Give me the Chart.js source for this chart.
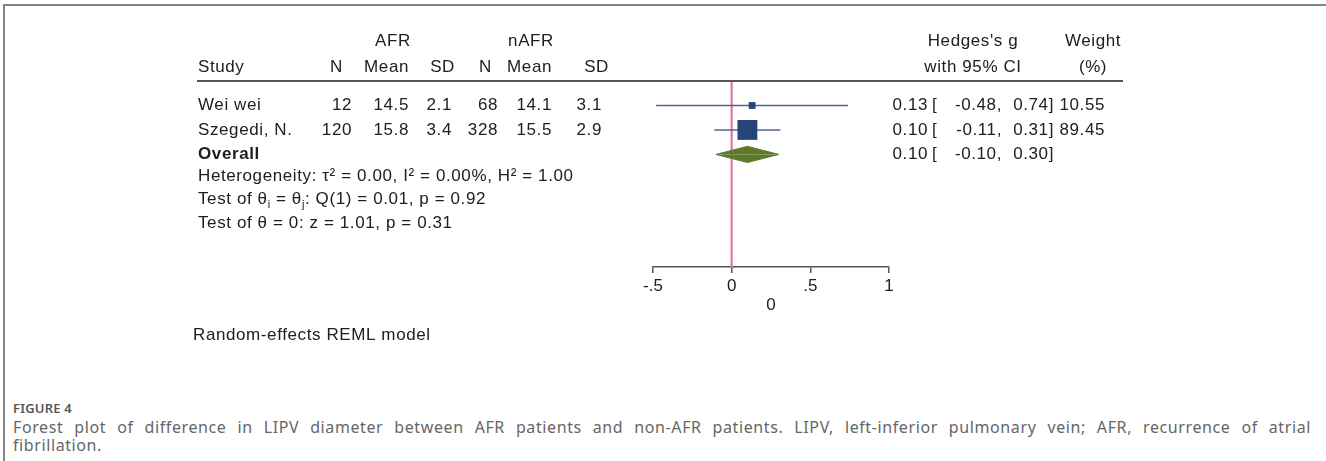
<!DOCTYPE html>
<html>
<head>
<meta charset="utf-8">
<script src="https://cdn.jsdelivr.net/npm/chart.js@4"></script>
<style>
  body { margin: 0; background: #fff; }
  .page { position: relative; width: 1326px; height: 461px; overflow: hidden; background: #fff; }
  .rule-top { position: absolute; left: 3px; top: 4px; width: 1323px; height: 2px; background: #858585; }
  .rule-left { position: absolute; left: 3px; top: 4px; width: 2px; height: 457px; background: #858585; }
  .plot { position: absolute; left: 0; top: 0; width: 1326px; height: 360px; }
  .fig-label { position: absolute; left: 13px; top: 399px; font: 600 13px "Noto Sans", sans-serif; color: #555; letter-spacing: 0.2px; }
  .caption { position: absolute; left: 13px; width: 1298px; font: 16px "Noto Sans", sans-serif; color: #666; letter-spacing: 0.6px; line-height: 19px; }
  .line1 { top: 418px; text-align: justify; text-align-last: justify; }
  .line2 { top: 436px; }
</style>
</head>
<body>
<div class="page">
  <div class="rule-top"></div>
  <div class="rule-left"></div>
  <div class="plot"><canvas id="forestCanvas"></canvas></div>
  <div class="fig-label">FIGURE 4</div>
  <div class="caption line1">Forest plot of difference in LIPV diameter between AFR patients and non-AFR patients. LIPV, left-inferior pulmonary vein; AFR, recurrence of atrial</div>
  <div class="caption line2">fibrillation.</div>
</div>
<script>
document.addEventListener("DOMContentLoaded", () => {
  // study data
  const studies = ["Wei wei", "Szegedi, N."];
  const afrN = [12, 120];
  const afrMean = [14.5, 15.8];
  const afrSD = [2.1, 3.4];
  const nafrN = [68, 328];
  const nafrMean = [14.1, 15.5];
  const nafrSD = [3.1, 2.9];
  const hedgesG = [0.13, 0.10];
  const ciLow = [-0.48, -0.11];
  const ciHigh = [0.74, 0.31];
  const weights = [10.55, 89.45];

  const overallG = 0.10;
  const overallLow = -0.10;
  const overallHigh = 0.30;

  const xTicks = [-0.5, 0, 0.5, 1];
  const xTickLabels = ["-.5", "0", ".5", "1"];

  // row positions (in y units, 0 = header rule)
  const studyRows = [1, 2];
  const overallRow = 3;
  const yMax = 7.6;

  const FONT = '"Liberation Sans", Arial, Helvetica, sans-serif';
  const textColor = "#202020";
  const FS = 17;

  const ciDatasets = studies.map((s, i) => ({
    label: s + " CI",
    data: [{ x: ciLow[i], y: studyRows[i] }, { x: ciHigh[i], y: studyRows[i] }],
    showLine: true,
    borderColor: "#4f6890",
    borderWidth: 1.6,
    pointRadius: 0,
    order: 3,
  }));

  const diamondHalf = 0.33;

  const forestText = {
    id: "forestText",
    afterDraw(chart) {
      const { ctx, chartArea, scales: { x, y } } = chart;
      const py = (v) => y.getPixelForValue(v);

      ctx.save();
      // header rule
      ctx.strokeStyle = "#555";
      ctx.lineWidth = 2;
      ctx.beginPath();
      ctx.moveTo(197, chartArea.top);
      ctx.lineTo(1123, chartArea.top);
      ctx.stroke();

      ctx.fillStyle = textColor;
      ctx.textBaseline = "middle";
      ctx.font = FS + "px " + FONT;
      ctx.letterSpacing = "0.6px";

      const put = (str, px, pyy, align) => {
        ctx.textAlign = align || "left";
        ctx.fillText(str, px, pyy);
      };

      // headers
      const h1 = py(-1.62);
      const h2 = py(-0.55);
      put("AFR", 393, h1, "center");
      put("nAFR", 531, h1, "center");
      put("Hedges's g", 973, h1, "center");
      put("Weight", 1093, h1, "center");
      put("Study", 198, h2);
      put("N", 343, h2, "right");
      put("Mean", 409, h2, "right");
      put("SD", 455, h2, "right");
      put("N", 492, h2, "right");
      put("Mean", 552, h2, "right");
      put("SD", 609, h2, "right");
      put("with 95% CI", 973, h2, "center");
      put("(%)", 1093, h2, "center");

      // study rows
      studies.forEach((s, i) => {
        const ry = py(studyRows[i]);
        put(s, 198, ry);
        put(String(afrN[i]), 352, ry, "right");
        put(afrMean[i].toFixed(1), 409, ry, "right");
        put(afrSD[i].toFixed(1), 452, ry, "right");
        put(String(nafrN[i]), 498, ry, "right");
        put(nafrMean[i].toFixed(1), 552, ry, "right");
        put(nafrSD[i].toFixed(1), 602, ry, "right");
        put(hedgesG[i].toFixed(2), 928, ry, "right");
        put("[", 932, ry);
        put(ciLow[i].toFixed(2) + ",", 1002, ry, "right");
        put(ciHigh[i].toFixed(2) + "]", 1054, ry, "right");
        put(weights[i].toFixed(2), 1105, ry, "right");
      });

      const oy = py(overallRow);
      put(overallG.toFixed(2), 928, oy, "right");
      put("[", 932, oy);
      put(overallLow.toFixed(2) + ",", 1002, oy, "right");
      put(overallHigh.toFixed(2) + "]", 1054, oy, "right");

      ctx.font = "bold " + FS + "px " + FONT;
      put("Overall", 198, oy);

      // notes with sub/superscripts
      const rich = (parts, px, pyy) => {
        let cx = px;
        ctx.textAlign = "left";
        parts.forEach(([t, kind]) => {
          if (kind === "sub") {
            ctx.font = "11px " + FONT;
            ctx.fillText(t, cx, pyy + 5);
          } else {
            ctx.font = FS + "px " + FONT;
            ctx.fillText(t, cx, pyy);
          }
          cx += ctx.measureText(t).width;
        });
      };
      rich([["Heterogeneity: \u03c4\u00b2 = 0.00, I\u00b2 = 0.00%, H\u00b2 = 1.00"]], 198, py(3.9));
      rich([["Test of \u03b8"], ["i", "sub"], [" = \u03b8"], ["j", "sub"], [": Q(1) = 0.01, p = 0.92"]], 198, py(4.85));
      rich([["Test of \u03b8 = 0: z = 1.01, p = 0.31"]], 198, py(5.8));
      rich([["Random-effects REML model"]], 193, py(10.4));
      ctx.restore();
    },
  };

  const ctx = document.getElementById("forestCanvas").getContext("2d");
  new Chart(ctx, {
    type: "scatter",
    data: {
      datasets: [
        {
          label: "study",
          data: studies.map((s, i) => ({ x: hedgesG[i], y: studyRows[i] })),
          pointStyle: "rect",
          pointRadius: weights.map((w) => (21 * Math.sqrt(w / 100)) / Math.SQRT2),
          backgroundColor: "#264577",
          borderColor: "#264577",
          borderWidth: 0,
          order: 1,
        },
        {
          label: "overall upper",
          data: [
            { x: overallLow, y: overallRow },
            { x: overallG, y: overallRow - diamondHalf },
            { x: overallHigh, y: overallRow },
          ],
          showLine: true,
          borderColor: "#5d7a2c",
          backgroundColor: "#5d7a2c",
          borderWidth: 1,
          pointRadius: 0,
          fill: { value: overallRow },
          order: 2,
        },
        {
          label: "overall lower",
          data: [
            { x: overallLow, y: overallRow },
            { x: overallG, y: overallRow + diamondHalf },
            { x: overallHigh, y: overallRow },
          ],
          showLine: true,
          borderColor: "#5d7a2c",
          backgroundColor: "#5d7a2c",
          borderWidth: 1,
          pointRadius: 0,
          fill: { value: overallRow },
          order: 2,
        },
        ...ciDatasets,
        {
          label: "no effect",
          data: [{ x: 0, y: 0 }, { x: 0, y: yMax }],
          showLine: true,
          borderColor: "#dc7aa3",
          borderWidth: 2.2,
          pointRadius: 0,
          order: 5,
        },
      ],
    },
    options: {
      responsive: true,
      maintainAspectRatio: false,
      animation: false,
      events: [],
      layout: { padding: { left: 653, right: 437, top: 81, bottom: 33 } },
      plugins: {
        legend: { display: false },
        tooltip: { enabled: false },
        title: { display: false },
      },
      scales: {
        x: {
          type: "linear",
          min: -0.5,
          max: 1,
          afterBuildTicks: (scale) => {
            scale.ticks = xTicks.map((v) => ({ value: v }));
          },
          afterFit: (scale) => {
            scale.height = 60;
          },
          ticks: {
            autoSkip: false,
            maxRotation: 0,
            padding: 3,
            color: textColor,
            font: { family: FONT, size: FS },
            callback: (v) => xTickLabels[xTicks.indexOf(v)],
          },
          grid: {
            drawOnChartArea: false,
            drawTicks: true,
            tickLength: 6,
            color: "#555",
            lineWidth: 1.5,
          },
          border: { display: true, color: "#555", width: 1.5 },
          title: {
            display: true,
            text: "0",
            color: textColor,
            font: { family: FONT, size: FS },
            padding: { top: 0, bottom: 11 },
          },
        },
        y: {
          type: "linear",
          display: false,
          reverse: true,
          min: 0,
          max: yMax,
        },
      },
    },
    plugins: [forestText],
  });
});
</script>
</body>
</html>
